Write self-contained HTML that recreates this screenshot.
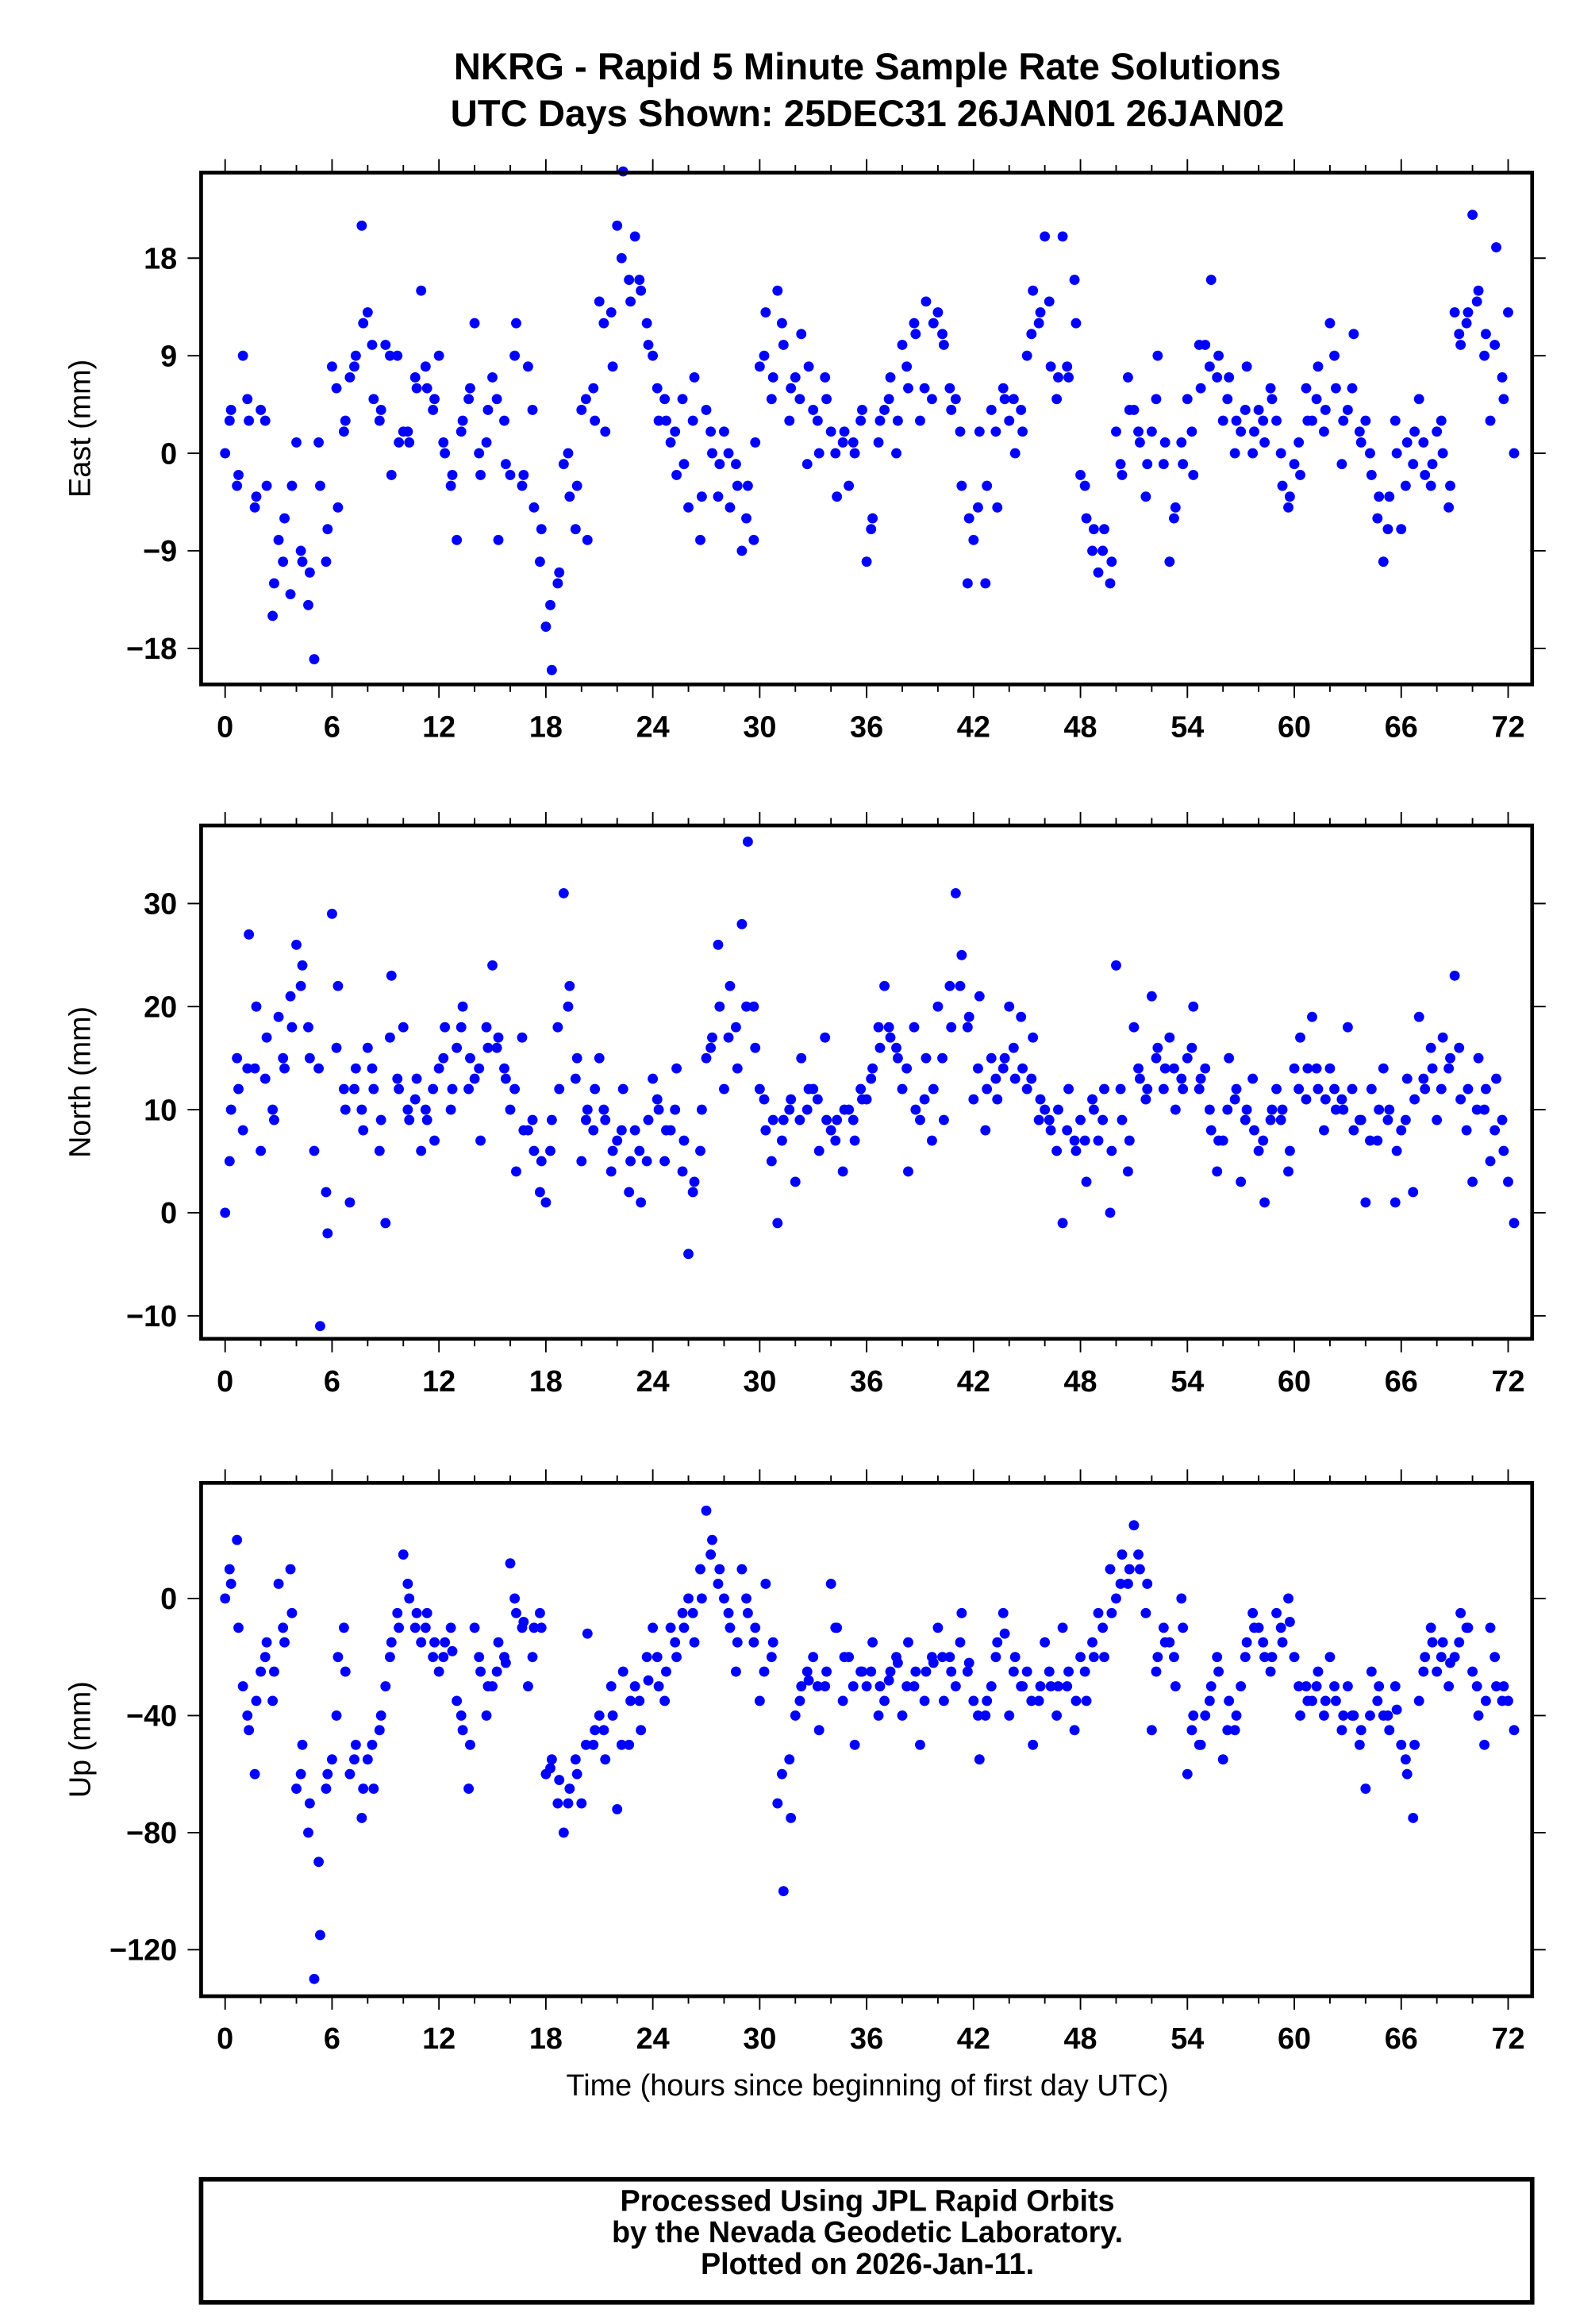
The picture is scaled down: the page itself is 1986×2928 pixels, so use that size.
<!DOCTYPE html>
<html><head><meta charset="utf-8"><style>html,body{margin:0;padding:0;background:#fff}svg{display:block}text{font-family:"Liberation Sans",Arial,sans-serif}</style></head>
<body>
<svg id="chart" width="1986" height="2928" viewBox="0 0 1050.2 1548.4" xmlns="http://www.w3.org/2000/svg">
<text x="578" y="53" text-anchor="middle" font-size="25" font-weight="bold">NKRG - Rapid 5 Minute Sample Rate Solutions</text>
<text x="578" y="84" text-anchor="middle" font-size="25" font-weight="bold">UTC Days Shown:  25DEC31 26JAN01 26JAN02</text>
<g id="plots"></g>
<text x="578" y="1396" text-anchor="middle" font-size="20">Time (hours since beginning of first day UTC)</text>
<rect x="134" y="1452" width="887" height="82" fill="none" stroke="#000" stroke-width="3"/>
<text x="578" y="1473" text-anchor="middle" font-size="20" font-weight="bold">Processed Using JPL Rapid Orbits</text>
<text x="578" y="1494" text-anchor="middle" font-size="20" font-weight="bold">by the Nevada Geodetic Laboratory.</text>
<text x="578" y="1515" text-anchor="middle" font-size="20" font-weight="bold">Plotted on 2026-Jan-11.</text>
</svg>
<script>
const xTicks = [0,6,12,18,24,30,36,42,48,54,60,66,72];
const eastTicks = [18,9,0,-9,-18];
const northTicks = [30,20,10,0,-10];
const upTicks = [0,-40,-80,-120];
// series A: samples every 20 min starting at hour 0
const eastValues = [0,4,-3,9,3,-5,4,-3,-15,-8,-6,-13,1,-10,-14,-19,-3,-10,8,-5,2,7,9,21,13,5,3,10,-2,9,2,1,7,15,6,4,9,0,-3,-8,3,5,12,-2,1,7,-8,3,-2,12,-3,8,-5,-10,-16,-20,-12,-1,-4,-7,4,-8,6,14,2,13,21,26,16,20,15,12,9,3,5,1,-2,5,-5,7,-8,4,0,-4,2,-5,-1,-9,-3,-8,8,13,5,15,10,3,7,11,-1,4,0,7,2,-4,1,-3,0,3,-10,-6,1,4,7,0,10,6,12,3,14,5,13,10,6,5,-3,-12,-8,2,-12,4,-5,6,3,0,4,9,15,12,20,8,5,20,7,16,-2,-6,-9,-11,-7,-12,2,-2,7,4,1,-4,2,9,-1,-10,-5,1,5,-2,10,10,16,7,3,7,0,2,8,0,4,1,6,3,-3,-5,-1,-2,6,3,8,2,12,6,-1,4,11,2,3,-2,-6,-10,-4,3,-7,1,-1,5,-2,-3,2,0,-5,13,10,12,22,15,9,3,19,7,13,0];
const northValues = [0,10,15,8,27,14,6,17,10,19,14,21,26,24,18,6,-11,2,29,22,12,1,14,10,16,12,6,-1,23,13,18,9,11,6,9,12,14,18,10,16,20,12,13,7,18,24,17,14,10,4,17,8,6,2,1,9,18,31,22,13,5,10,8,15,9,4,7,12,2,8,1,5,13,10,5,8,14,4,-4,3,6,15,17,26,12,22,18,28,36,20,12,8,5,-1,9,10,3,15,10,12,6,17,8,9,4,10,7,12,11,14,18,22,17,16,12,4,18,9,15,7,20,9,22,31,25,18,11,21,8,15,11,14,20,13,19,12,17,9,10,8,6,-1,12,7,9,3,11,7,12,0,24,9,4,18,13,11,21,16,12,17,10,13,15,20,12,14,8,4,7,15,11,3,10,13,6,1,9,12,10,4,14,17,11,19,12,8,14,10,11,18,8,9,1,12,7,14,10,1,8,13,2,19,12,16,9,17,14,23,11,8,3,15,10,5,13,9,3,-1];
const upValues = [0,5,20,-30,-45,-60,-25,-15,-35,5,-15,10,-65,-50,-80,-130,-115,-65,-55,-20,-10,-60,-50,-75,-55,-65,-45,-30,-15,-5,15,0,-10,-15,-5,-20,-25,-15,-10,-35,-45,-65,-10,-25,-40,-30,-15,-20,12,-5,-10,-30,-10,-5,-60,-55,-70,-80,-65,-55,-70,-12,-50,-40,-55,-30,-72,-25,-50,-30,-45,-20,-10,-30,-35,-10,-20,-5,0,-15,10,30,20,5,0,-10,-25,10,-5,-15,-35,5,-20,-70,-100,-55,-40,-30,-25,-20,-45,-30,5,-10,-35,-20,-50,-25,-30,-15,-40,-35,-25,-20,-40,-15,-30,-50,-25,-20,-10,-35,-20,-30,-5,-25,-35,-55,-40,-30,-15,-5,-40,-20,-30,-25,-50,-35,-15,-30,-40,-10,-25,-45,-20,-35,-15,-5,-20,10,0,15,5,25,10,-5,-45,-20,-10,-15,-30,0,-60,-40,-50,-40,-30,-20,-55,-35,-45,-30,-15,-5,-10,-20,-25,-5,-15,0,-20,-40,-30,-35,-25,-40,-20,-35,-45,-30,-40,-50,-65,-25,-35,-40,-45,-30,-50,-60,-75,-35,-20,-10,-25,-15,-30,-20,-5,-10,-25,-40,-50,-10,-30,-35,-35,-45];
// series B: samples every 30 min starting at hour 0.25
const eastValuesB = [3,-2,5,-4,3,-12,-10,-3,-9,-11,1,-7,6,3,8,12,10,4,9,1,2,6,8,5,1,-2,2,6,0,4,5,-1,9,-2,4,-7,-14,-11,0,-3,5,3,12,8,18,14,16,10,6,3,2,-1,3,-4,2,-1,0,-3,-6,1,9,7,12,6,5,8,3,5,0,2,1,4,-7,3,5,3,8,11,6,12,11,4,2,-6,-5,-3,2,5,5,2,11,13,14,7,8,12,-3,-7,-9,-10,-1,4,2,-1,5,1,-6,-1,2,6,8,9,5,3,4,2,3,5,0,-4,1,3,5,4,9,3,6,1,0,-4,-7,0,-3,2,1,-1,3,-3,11,13,14,11,10,5];
const northValuesB = [5,12,14,20,13,9,15,18,22,15,14,-2,16,10,12,8,14,9,17,12,10,13,10,7,15,12,18,15,14,16,16,13,12,8,9,5,6,12,20,15,9,12,10,6,8,5,6,9,11,8,10,7,2,10,16,20,17,14,20,16,11,9,7,11,9,12,11,9,7,10,9,11,13,16,18,15,14,10,11,12,15,18,22,19,14,12,13,15,16,14,13,11,9,10,8,6,7,10,9,6,12,7,14,12,15,14,14,12,16,13,10,7,10,12,9,8,7,10,9,6,12,14,14,11,12,10,12,9,7,10,9,6,9,11,13,14,12,15,16,12,10,12,8,6];
const upValuesB = [10,-10,-40,-35,-20,-25,-10,-5,-60,-70,-90,-60,-40,-25,-55,-65,-50,-40,-20,-10,5,-5,-10,-15,-20,-18,-40,-50,-20,-30,-25,-22,0,-8,-20,-10,-58,-62,-70,-60,-50,-45,-45,-40,-50,-35,-35,-28,-20,-25,-15,-10,-5,0,15,10,-5,-15,0,-10,-25,-15,-60,-75,-35,-28,-30,-25,-10,-20,-30,-25,-25,-30,-28,-22,-30,-25,-35,-22,-20,-25,-15,-22,-40,-35,-20,-12,-25,-30,-35,-30,-25,-30,-30,-35,-25,-20,-10,-5,5,10,15,5,-25,-15,-20,-10,-45,-50,-35,-25,-45,-40,-20,-10,-15,-20,-10,-8,-30,-35,-30,-35,-30,-40,-40,-45,-40,-30,-40,-38,-55,-50,-25,-15,-20,-22,-15,-10,-30,-35,-20,-30];
const panels = [
 {name:'east', label:'East (mm)', top:115, bottom:456, ticks:eastTicks, vals:eastValues, valsB:eastValuesB, v0:18, p0:172, v1:-18, p1:432},
 {name:'north', label:'North (mm)', top:550, bottom:892, ticks:northTicks, vals:northValues, valsB:northValuesB, v0:30, p0:602, v1:0, p1:808},
 {name:'up', label:'Up (mm)', top:988, bottom:1330, ticks:upTicks, vals:upValues, valsB:upValuesB, v0:0, p0:1065, v1:-120, p1:1299}
];
const NS='http://www.w3.org/2000/svg';
const L=134,R=1021;
function xs(h){return 150+(h/72)*(1005-150);}
function mk(tag,attrs,parent){const e=document.createElementNS(NS,tag);for(const k in attrs)e.setAttribute(k,attrs[k]);parent.appendChild(e);return e;}
const root=document.getElementById('plots');
panels.forEach(p=>{
 const ys=v=>p.p0+(v-p.v0)*(p.p1-p.p0)/(p.v1-p.v0);
 const g=mk('g',{},root);
 
 
 for(let h=0;h<=72;h+=2){
  const major=h%6===0, len=major?9:5, x=xs(h);
  const t1=mk('line',{x1:x,x2:x,y1:p.top-len,y2:p.top,stroke:'#000','stroke-width':1},g);
  
  
  const t2=mk('line',{x1:x,x2:x,y1:p.bottom,y2:p.bottom+len,stroke:'#000','stroke-width':1},g);
  
  
 }
 xTicks.forEach(h=>{
  const t=mk('text',{x:xs(h),y:p.bottom+35,'text-anchor':'middle','font-size':20,'font-weight':'bold'},g);
  t.textContent=h;
  
  
 });
 p.ticks.forEach(v=>{
  const y=ys(v);
  const a=mk('line',{x1:L-9,x2:L,y1:y,y2:y,stroke:'#000','stroke-width':1},g);
  
  
  const b=mk('line',{x1:R,x2:R+9,y1:y,y2:y,stroke:'#000','stroke-width':1},g);
  
  
  const t=mk('text',{x:L-16,y:y+7,'text-anchor':'end','font-size':20,'font-weight':'bold'},g);
  t.textContent=v<0?'\u2212'+Math.abs(v):String(v);
  
  
 });
 const cy=(p.top+p.bottom)/2;
 const yl=mk('text',{x:0,y:0,transform:`translate(60,${cy}) rotate(-90)`,'text-anchor':'middle','font-size':20},g);
 yl.textContent=p.label;
 
 
 p.vals.forEach((v,i)=>{
  const c=mk('circle',{cx:xs(i/3),cy:ys(v),r:3.4,fill:'#0000ff'},g);
  
  
 });
 p.valsB.forEach((v,i)=>{
  const c=mk('circle',{cx:xs(i/2+0.25),cy:ys(v),r:3.4,fill:'#0000ff'},g);
  
  
 });
 const fr=mk('rect',{x:L,y:p.top,width:R-L,height:p.bottom-p.top,fill:'none',stroke:'#000','stroke-width':2.5},g);
 
 
});
</script>
</body></html>
